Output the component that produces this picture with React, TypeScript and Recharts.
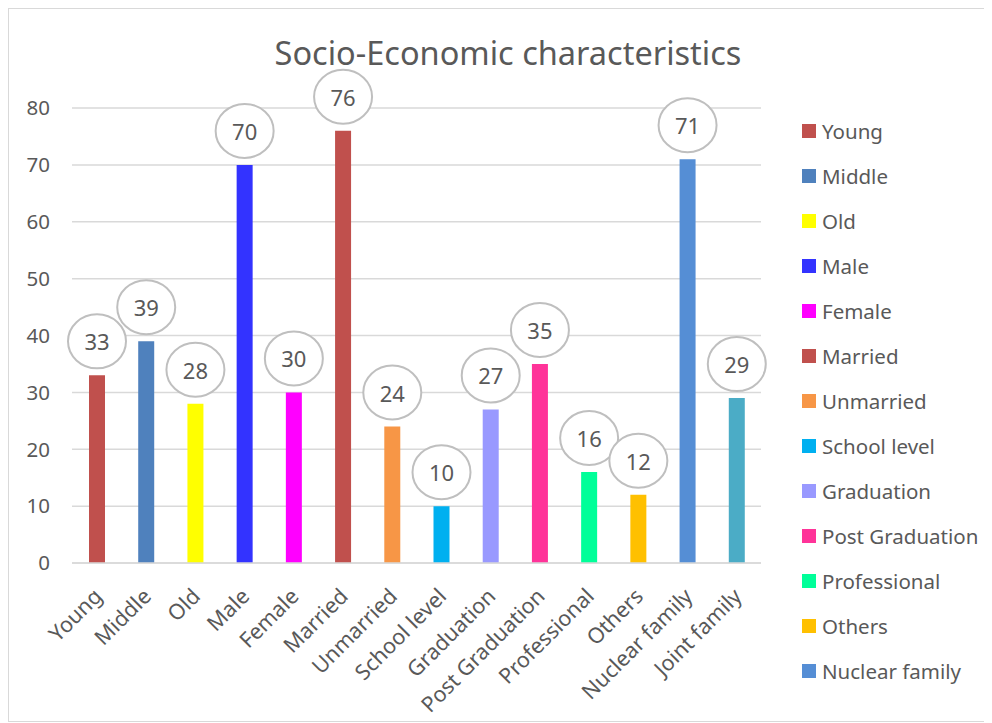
import React from "react";
import { BarChart, Bar, XAxis, YAxis, CartesianGrid, Cell, LabelList } from "recharts";

const categories = [
  "Young", "Middle", "Old", "Male", "Female", "Married", "Unmarried",
  "School level", "Graduation", "Post Graduation", "Professional", "Others",
  "Nuclear family", "Joint family",
];
const values = [33, 39, 28, 70, 30, 76, 24, 10, 27, 35, 16, 12, 71, 29];
const colors = [
  "#C0504D", "#4F81BD", "#FFFF00", "#3333FF", "#FF00FF", "#C0504D", "#F79646",
  "#00B0F0", "#9999FF", "#FF3399", "#00FF99", "#FFC000", "#558ED5", "#4BACC6",
];
const yTicks = [0, 10, 20, 30, 40, 50, 60, 70, 80];
// the legend in the original is cut off after "Nuclear family"
const legendCount = 13;

const data = categories.map((name, i) => ({ name, value: values[i] }));

const FONT = "'Noto Sans', 'Open Sans', sans-serif";
const TEXT = "#595959";

function CircleLabel(props: any) {
  const { x, y, width, value } = props;
  const cx = x + width / 2;
  const cy = y - 34;
  return (
    <g>
      <ellipse cx={cx} cy={cy} rx={29} ry={27} fill="#fff" stroke="#BFBFBF" strokeWidth={2} />
      <text x={cx} y={cy} textAnchor="middle" dominantBaseline="central" fontSize={22} fill={TEXT} fontFamily={FONT}>
        {value}
      </text>
    </g>
  );
}

function XTick(props: any) {
  const { x, y, payload } = props;
  return (
    <g transform={`translate(${x - 4},${y + 16})`}>
      <text transform="rotate(-45)" textAnchor="end" dy="0.7em" fontSize={21.5} fill={TEXT} fontFamily={FONT}>
        {payload.value}
      </text>
    </g>
  );
}

export default function App() {
  return (
    <div style={{ position: "relative", width: 980, height: 712, border: "1px solid #D9D9D9", background: "#fff", fontFamily: FONT }}>
      <div style={{ position: "absolute", top: 21, left: 0, width: 998, textAlign: "center", fontSize: 32.5, color: TEXT }}>
        Socio-Economic characteristics
      </div>
      <BarChart width={978} height={710} data={data} margin={{ top: 99, right: 226, bottom: 16, left: 0 }}>
        <CartesianGrid vertical={false} stroke="#D9D9D9" strokeWidth={1.5} />
        <XAxis
          dataKey="name"
          interval={0}
          height={140}
          tickLine={false}
          axisLine={{ stroke: "#D9D9D9", strokeWidth: 1.5 }}
          tick={<XTick />}
        />
        <YAxis
          domain={[0, 80]}
          ticks={yTicks}
          width={63}
          axisLine={false}
          tickLine={false}
          tickSize={0}
          tickMargin={22}
          tick={{ fontSize: 20.5, fill: TEXT, fontFamily: FONT }}
        />
        <Bar dataKey="value" barSize={16} isAnimationActive={false}>
          {data.map((d, i) => (
            <Cell key={d.name} fill={colors[i]} />
          ))}
          <LabelList dataKey="value" content={<CircleLabel />} />
        </Bar>
      </BarChart>
      <div style={{ position: "absolute", left: 793, top: 99 }}>
        {categories.slice(0, legendCount).map((name, i) => (
          <div key={name + i} style={{ display: "flex", alignItems: "center", height: 45, fontSize: 20.5, color: TEXT }}>
            <span style={{ display: "inline-block", width: 14, height: 14, background: colors[i], marginRight: 6 }} />
            {name}
          </div>
        ))}
      </div>
    </div>
  );
}
